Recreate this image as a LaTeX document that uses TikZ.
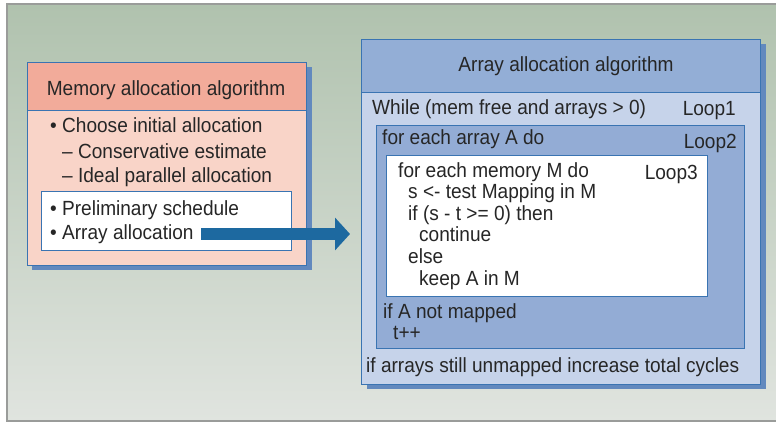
\documentclass[tikz,border=0pt]{standalone}
\usepackage{fontspec}
\setmainfont{Liberation Sans}[FakeStretch=0.93]
\usetikzlibrary{arrows.meta}
\definecolor{bgtop}{HTML}{B0C2AE}
\definecolor{bgbot}{HTML}{E0E4DF}
\definecolor{framegray}{HTML}{9A9C9A}
\definecolor{edge}{HTML}{3A74B2}
\definecolor{shadowblue}{HTML}{6289BE}
\definecolor{salmon}{HTML}{F2AB9A}
\definecolor{pinkbody}{HTML}{F9D4C8}
\definecolor{hdrblue}{HTML}{93AED6}
\definecolor{lightblue}{HTML}{C6D3EA}
\definecolor{midblue}{HTML}{93ACD5}
\definecolor{arrowblue}{HTML}{1D69A0}
\definecolor{ink}{HTML}{262626}
\begin{document}
\begin{tikzpicture}[x=1pt,y=-1pt,
  box/.style={draw=edge, line width=1pt, rectangle, inner sep=0pt, anchor=north west},
  shadowbox/.style={fill=shadowblue, rectangle, inner sep=0pt, anchor=north west},
  txt/.style={anchor=base west, inner sep=0pt, text=ink, font=\fontsize{20.5}{24}\selectfont},
  rtxt/.style={txt, anchor=base east},
  ctxt/.style={txt, anchor=base}]
\useasboundingbox (0,0) rectangle (776,425);
% background
\shade[top color=bgtop, bottom color=bgbot] (7,4) rectangle (776,421);
\draw[framegray, line width=1.3pt] (776,4) -- (7,4) -- (7,421) -- (776,421);

% left box
\node[shadowbox, minimum width=280pt, minimum height=203pt] (lshadow) at (32,67) {};
\node[box, fill=pinkbody, minimum width=279pt, minimum height=203pt] (lbox) at (27,62) {};
\node[box, fill=salmon, minimum width=279pt, minimum height=48pt] (lhead) at (27,62) {};
\node[box, fill=white, minimum width=250pt, minimum height=59pt] (lwhite) at (41,191) {};
\node[ctxt] (ltitle) at (166,96) {Memory allocation algorithm};
\node[txt] (l1) at (50,132) {• Choose initial allocation};
\node[txt] (l2) at (62,158) {– Conservative estimate};
\node[txt] (l3) at (62,182) {– Ideal parallel allocation};
\node[txt] (l4) at (50,215) {• Preliminary schedule};
\node[txt] (l5) at (50,239) {• Array allocation};

% right box
\node[shadowbox, minimum width=399pt, minimum height=345pt] (rshadow) at (367,44) {};
\node[box, fill=lightblue, minimum width=399pt, minimum height=345pt] (rbox) at (361,39) {};
\node[box, fill=hdrblue, minimum width=399pt, minimum height=53pt] (rhead) at (361,39) {};
\node[box, fill=midblue, minimum width=368pt, minimum height=223pt] (loop2box) at (376,125) {};
\node[box, fill=white, minimum width=321pt, minimum height=141pt] (loop3box) at (386,155) {};

\node[ctxt] (rtitle) at (566,72) {Array allocation algorithm};
\node[txt] (w1) at (372,114) {While (mem free and arrays > 0)};
\node[rtxt] (loop1) at (736,116) {Loop1};
\node[txt] (f1) at (382,145) {for each array A do};
\node[rtxt] (loop2) at (737,148) {Loop2};
\node[txt] (m1) at (398,177) {for each memory M do};
\node[rtxt] (loop3) at (698,179) {Loop3};
\node[txt] (m2) at (408,198.6) {s <- test Mapping in M};
\node[txt] (m3) at (408,220.2) {if (s - t >= 0) then};
\node[txt] (m4) at (419,241.8) {continue};
\node[txt] (m5) at (408,263.4) {else};
\node[txt] (m6) at (419,285) {keep A in M};
\node[txt] (n1) at (383,318) {if A not mapped};
\node[txt] (n2) at (393,339) {t++};
\node[txt] (last) at (366,372.5) {if arrays still unmapped increase total cycles};

% arrow
\coordinate (astart) at (201,234);
\coordinate (aend) at (350,234);
\draw[arrowblue, line width=12pt, -{Triangle[length=15pt 0 0, width=32pt 0 0]}] (astart) -- (aend);
\end{tikzpicture}
\end{document}
